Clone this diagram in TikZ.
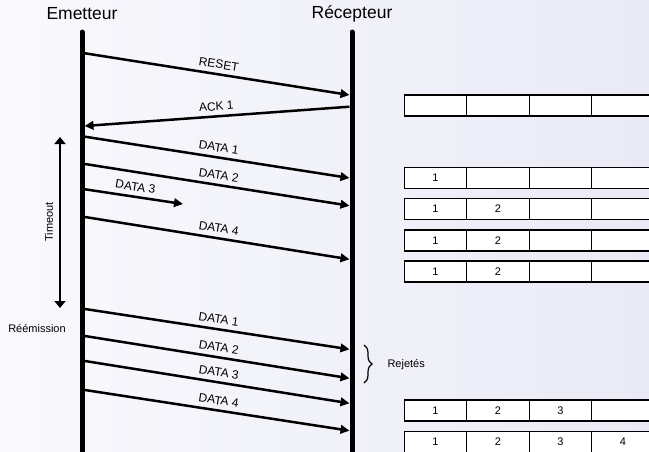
\documentclass[tikz,border=0pt]{standalone}
\usepackage{fontspec}
\setmainfont{Liberation Sans}
\usetikzlibrary{arrows.meta,decorations.pathreplacing}
\definecolor{bgl}{RGB}{249,249,253}
\definecolor{bgr}{RGB}{234,234,246}
\begin{document}
\begin{tikzpicture}[x=1pt,y=-1pt,
  head/.style={font=\fontsize{17.5}{20}\selectfont},
  lifeline/.style={line width=5pt,line cap=round},
  msg/.style={line width=2.5pt,-{Triangle[length=9pt,width=8.5pt]}},
  lbl/.style={font=\fontsize{12}{14}\selectfont,sloped,above=3.5pt,pos=0.5,inner sep=1pt},
  note/.style={font=\fontsize{11}{13}\selectfont},
  cell/.style={draw,fill=white,line width=1.4pt,minimum width=62.5pt,
    minimum height=21pt,inner sep=0pt,font=\fontsize{11}{13}\selectfont}]

\useasboundingbox (0,0) rectangle (649,451);
\clip (0,0) rectangle (649,451);
\shade[left color=bgl,right color=bgr] (0,0) rectangle (649,451);

% Lifelines
\node[head] (em) at (82,14) {Emetteur};
\node[head] (rc) at (352,14) {Récepteur};
\coordinate (emT) at (82,32);  \coordinate (emB) at (82,460);
\coordinate (rcT) at (352,32); \coordinate (rcB) at (352,460);
\draw[lifeline] (emT) -- (emB);
\draw[lifeline] (rcT) -- (rcB);

% End points of the messages on both lifelines
\coordinate (sReset) at (85,53.3);   \coordinate (dReset) at (349.5,95);
\coordinate (sAck)   at (349.5,106.7); \coordinate (dAck) at (84.5,126);
\coordinate (sD1)    at (85,136.7);  \coordinate (dD1) at (349.5,178);
\coordinate (sD2)    at (85,164);    \coordinate (dD2) at (349.5,205.7);
\coordinate (sD3)    at (85,189.3);  \coordinate (dD3) at (183,204);
\coordinate (sD4)    at (85,217);    \coordinate (dD4) at (349.5,259.3);
\coordinate (sR1)    at (85,309);    \coordinate (dR1) at (349.5,349.3);
\coordinate (sR2)    at (85,336);    \coordinate (dR2) at (349.5,378.3);
\coordinate (sR3)    at (85,361);    \coordinate (dR3) at (349.5,403.3);
\coordinate (sR4)    at (85,390);    \coordinate (dR4) at (349.5,430.7);

% Messages
\draw[msg] (sReset) -- node[lbl] (lReset) {RESET} (dReset);
\draw[msg] (sAck) -- node[lbl] (lAck) {ACK 1} (dAck);
\draw[msg] (sD1) -- node[lbl] (lD1) {DATA 1} (dD1);
\draw[msg] (sD2) -- node[lbl] (lD2) {DATA 2} (dD2);
\draw[msg] (sD3) -- node[lbl] (lD3) {DATA 3} (dD3);
\draw[msg] (sD4) -- node[lbl] (lD4) {DATA 4} (dD4);
\draw[msg] (sR1) -- node[lbl] (lR1) {DATA 1} (dR1);
\draw[msg] (sR2) -- node[lbl] (lR2) {DATA 2} (dR2);
\draw[msg] (sR3) -- node[lbl] (lR3) {DATA 3} (dR3);
\draw[msg] (sR4) -- node[lbl] (lR4) {DATA 4} (dR4);

% Timeout interval
\coordinate (toA) at (60,137);
\coordinate (toB) at (60,308);
\draw[line width=2pt,{Triangle[length=7pt,width=11pt]}-{Triangle[length=7pt,width=11pt]}] (toA) -- (toB);
\node[note,rotate=90] (tmo) at (49,222) {Timeout};
\node[note] (reem) at (37,328) {Réémission};

% Rejected segments
\coordinate (brA) at (364,345);
\coordinate (brB) at (364,383);
\draw[line width=1.2pt,decorate,decoration={brace,amplitude=8pt}] (brA) -- (brB);
\node[note,anchor=west] (rej) at (384,365) {Rejetés};

% Receive buffer states
\foreach \r/\y/\a/\b/\c/\d in {1/105.5/ / / / ,2/178/1/ / / ,3/209/1/2/ / ,
    4/240.5/1/2/ / ,5/271.5/1/2/ / ,6/410.5/1/2/3/ ,7/442/1/2/3/4}{
  \node[cell] (b\r c1) at (435.5,\y) {\a};
  \node[cell] (b\r c2) at (498,\y) {\b};
  \node[cell] (b\r c3) at (560.5,\y) {\c};
  \node[cell] (b\r c4) at (623,\y) {\d};
}
\end{tikzpicture}
\end{document}
